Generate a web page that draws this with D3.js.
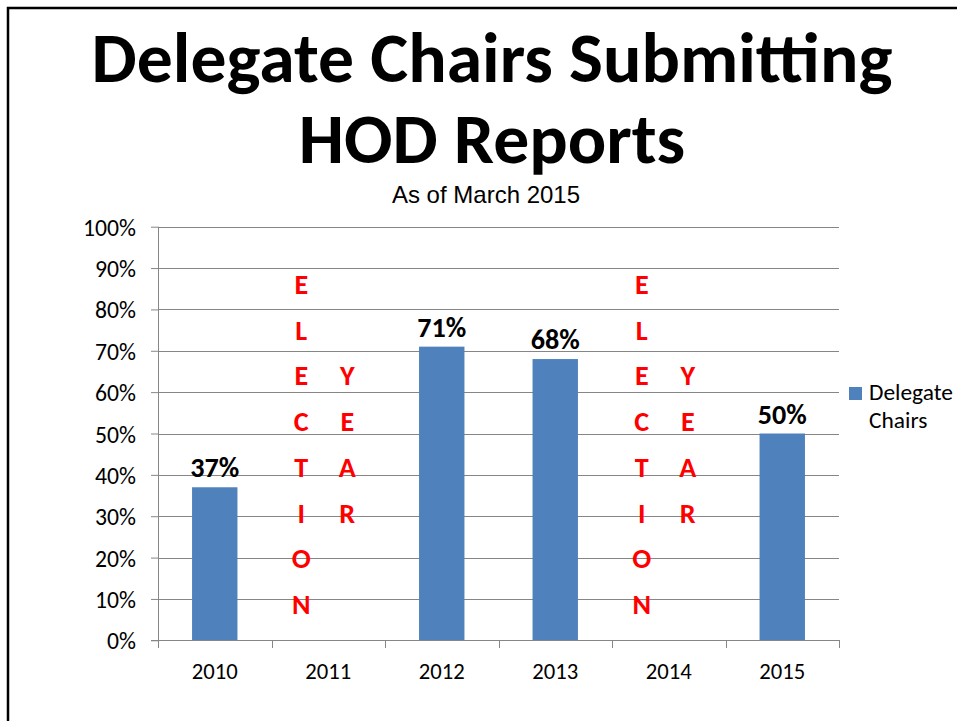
<!DOCTYPE html>
<html>
<head>
<meta charset="utf-8">
<script src="https://cdn.jsdelivr.net/npm/d3@7"></script>
<style>
	body { margin: 0; background: #fff; }
	svg { display: block; }
	text { font-family: Carlito, Calibri, Lato, sans-serif; }
</style>
</head>
<body>
<svg id="chart" width="957" height="721"></svg>
<script>
// chart values
var years = ["2010", "2011", "2012", "2013", "2014", "2015"];
var chairs = [0.37, null, 0.71, 0.68, null, 0.50];
var yTicks = [0, 0.1, 0.2, 0.3, 0.4, 0.5, 0.6, 0.7, 0.8, 0.9, 1.0];
var seriesName = ["Delegate", "Chairs"];
var titleLines = ["Delegate Chairs Submitting", "HOD Reports"];
var subtitle = "As of March 2015";
// red notes written down the empty years
var electionYears = ["2011", "2014"];
var noteWords = ["ELECTION", "YEAR"];
var noteStartRow = [0, 2];

var barColor = "#4F81BD";
var axisColor = "#868686";

var svg = d3.select("#chart");

// font size that makes a sample string as wide as in the picture
// (Calibri is not installed, so the fallback font is measured)
function fitSize(sample, width, weight){
	var t = svg.append("text")
		.text(sample)
		.style("font-weight", weight || "normal")
		.style("font-size", "100px");
	var w = t.node().getComputedTextLength();
	t.remove();
	return 100 * width / w;
}

var titleSize = fitSize(titleLines[0], 801, "bold");
var tickSize = fitSize("100%", 53);
var yearSize = fitSize("2010", 46);
var valueSize = fitSize("71%", 49, "bold");
var legendSize = fitSize("Delegate", 84);

// slide border
svg.append("rect")
	.attr("x", 8)
	.attr("y", 8)
	.attr("width", 1200)
	.attr("height", 1200)
	.attr("fill", "none")
	.attr("stroke", "#000")
	.attr("stroke-width", 2.5);

// title
svg.append("g")
	.attr("class", "title")
	.selectAll("text")
	.data(titleLines)
	.join("text")
	.text(d => d)
	.attr("x", 492)
	.attr("y", (d, i) => 82 + i * 81)
	.attr("text-anchor", "middle")
	.style("font-weight", "bold")
	.style("font-size", titleSize + "px");

svg.append("text")
	.text(subtitle)
	.attr("x", 486)
	.attr("y", 203)
	.attr("text-anchor", "middle")
	.style("font-family", "'Liberation Sans', Arial, sans-serif")
	.style("font-size", "24px");

// plot area
var plotLeft = 158, plotRight = 839, plotTop = 226.7, plotBottom = 640.3;

var x = d3.scaleBand()
	.domain(years)
	.range([plotLeft, plotRight])
	.padding(0);

var y = d3.scaleLinear()
	.domain([0, 1])
	.range([plotBottom, plotTop]);

// gridlines
svg.append("g")
	.attr("class", "grid")
	.selectAll("line")
	.data(yTicks.slice(1))
	.join("line")
	.attr("x1", plotLeft)
	.attr("x2", plotRight)
	.attr("y1", d => Math.round(y(d)) + 0.5)
	.attr("y2", d => Math.round(y(d)) + 0.5)
	.attr("stroke", axisColor)
	.attr("stroke-width", 1);

// y axis
var yAxis = svg.append("g")
	.attr("class", "y-axis")
	.attr("transform", "translate(" + Math.round(plotLeft) + ",0)")
	.call(d3.axisLeft(y)
		.tickValues(yTicks)
		.tickFormat(d3.format(".0%"))
		.tickSize(7)
		.tickPadding(15));
yAxis.select(".domain").remove();
yAxis.append("line")
	.attr("x1", 0.5)
	.attr("x2", 0.5)
	.attr("y1", plotTop)
	.attr("y2", plotBottom)
	.attr("stroke", axisColor);
yAxis.selectAll(".tick line").attr("stroke", axisColor);
yAxis.selectAll("text")
	.attr("fill", "#000")
	.attr("dy", "0.36em")
	.style("font-family", null)
	.style("font-size", tickSize + "px");

// bars
var bw = x.bandwidth() * 0.4;
var barData = years.map((d, i) => ({year: d, v: chairs[i]})).filter(d => d.v != null);
svg.append("g")
	.attr("class", "bars")
	.selectAll("rect")
	.data(barData)
	.join("rect")
	.attr("x", d => x(d.year) + (x.bandwidth() - bw) / 2)
	.attr("y", d => y(d.v))
	.attr("width", bw)
	.attr("height", d => y(0) - y(d.v))
	.attr("fill", barColor);

// value labels
svg.append("g")
	.attr("class", "values")
	.selectAll("text")
	.data(barData)
	.join("text")
	.text(d => d3.format(".0%")(d.v))
	.attr("x", d => x(d.year) + x.bandwidth() / 2)
	.attr("y", d => y(d.v) - 10)
	.attr("text-anchor", "middle")
	.style("font-weight", "bold")
	.style("font-size", valueSize + "px");

// x axis, Excel style ticks between categories
var xg = svg.append("g").attr("class", "x-axis");
xg.append("line")
	.attr("x1", plotLeft - 7)
	.attr("x2", plotRight)
	.attr("y1", Math.round(plotBottom) + 0.5)
	.attr("y2", Math.round(plotBottom) + 0.5)
	.attr("stroke", axisColor);
xg.selectAll(".tick")
	.data(years.map(d => x(d)).concat([plotRight]))
	.join("line")
	.attr("class", "tick")
	.attr("x1", d => Math.round(d) + 0.5)
	.attr("x2", d => Math.round(d) + 0.5)
	.attr("y1", Math.round(plotBottom))
	.attr("y2", Math.round(plotBottom) + 8)
	.attr("stroke", axisColor);
xg.selectAll("text")
	.data(years)
	.join("text")
	.text(d => d)
	.attr("x", d => x(d) + x.bandwidth() / 2)
	.attr("y", 679)
	.attr("text-anchor", "middle")
	.style("font-size", yearSize + "px");

// election year notes
var colOffset = [-27, 19];
var rowTop = 294, rowStep = 45.7;
electionYears.forEach(function(yr){
	noteWords.forEach(function(word, c){
		svg.append("g")
			.attr("class", "note")
			.selectAll("text")
			.data(word.split(""))
			.join("text")
			.text(d => d)
			.attr("x", x(yr) + x.bandwidth() / 2 + colOffset[c])
			.attr("y", (d, i) => rowTop + (i + noteStartRow[c]) * rowStep)
			.attr("text-anchor", "middle")
			.attr("fill", "#FF0000")
			.style("font-weight", "bold")
			.style("font-size", valueSize + "px");
	});
});

// legend
var legend = svg.append("g").attr("class", "legend");
legend.append("rect")
	.attr("x", 849)
	.attr("y", 387)
	.attr("width", 13)
	.attr("height", 13)
	.attr("fill", barColor);
legend.selectAll("text")
	.data(seriesName)
	.join("text")
	.text(d => d)
	.attr("x", 869)
	.attr("y", (d, i) => 400 + i * 28)
	.style("font-size", legendSize + "px");
</script>
</body>
</html>
